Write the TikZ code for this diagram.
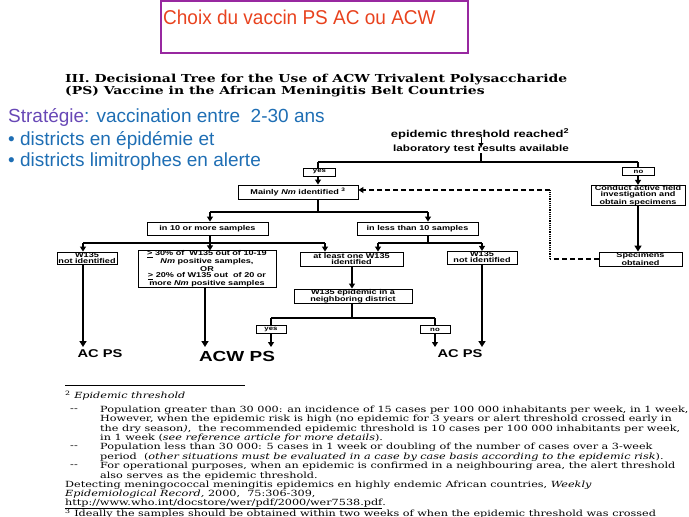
\documentclass[tikz,border=0pt]{standalone}
\usepackage{fontspec}
\setmainfont{Liberation Sans}
\newfontfamily\serifx[FakeStretch=1.32]{DejaVu Serif}
\newfontfamily\headfont[FakeStretch=1.27]{DejaVu Serif}
\newfontfamily\treefont[FakeStretch=1.3]{Liberation Sans}
\newfontfamily\titlefont[FakeStretch=0.95]{Liberation Sans}
\usetikzlibrary{arrows.meta}
\definecolor{titlered}{RGB}{232,66,30}
\definecolor{boxpurple}{RGB}{152,40,160}
\definecolor{stratviolet}{RGB}{104,72,182}
\definecolor{stratblue}{RGB}{30,110,180}
\tikzset{
  box/.style={draw,line width=0.9pt,inner sep=0pt,align=center,font=\treefont\bfseries\fontsize{7}{6.3}\selectfont},
  lab/.style={draw,line width=0.9pt,inner sep=0pt,minimum width=32pt,minimum height=8pt,font=\treefont\bfseries\fontsize{6}{6}\selectfont},
  ln/.style={line width=1.1pt},
  arr/.style={line width=1.1pt,-{Triangle[length=5pt,width=6pt]}},
  thick arr/.style={line width=2pt,-{Triangle[length=6pt,width=7pt]}},
  result/.style={font=\treefont\bfseries\fontsize{11.3}{11}\selectfont,inner sep=0pt},
  foot/.style={anchor=west,inner sep=0pt,font=\serifx\fontsize{8.5}{9}\selectfont},
  dsh/.style={line width=1.1pt,dash pattern=on 5pt off 3pt},
  dot/.style={line width=1.6pt,dash pattern=on 1.2pt off 1pt},
}
\begin{document}
\begin{tikzpicture}[x=1pt,y=-1pt]
\useasboundingbox (0,0) rectangle (689,517);
% title box
\node[draw=boxpurple,line width=1.3pt,minimum width=307pt,minimum height=52pt,inner sep=0pt] (tbox) at (314.5,27) {};
\node[anchor=west,inner sep=0pt,text=titlered,font=\titlefont\fontsize{20}{20}\selectfont] (ttext) at (163,17) {Choix du vaccin PS AC ou ACW};
% heading
\node[anchor=west,inner sep=0pt,font=\headfont\bfseries\fontsize{11}{12}\selectfont] (h1) at (65,80) {III. Decisional Tree for the Use of ACW Trivalent Polysaccharide};
\node[anchor=west,inner sep=0pt,font=\headfont\bfseries\fontsize{11}{12}\selectfont] (h2) at (65,92) {(PS) Vaccine in the African Meningitis Belt Countries};
% strategy
\node[anchor=west,inner sep=0pt,font=\fontsize{19}{19}\selectfont] (s1) at (8,117) {\textcolor{stratviolet}{Stratégie}\textcolor{stratblue}{: vaccination entre\ \ 2-30 ans}};
\node[anchor=west,inner sep=0pt,text=stratblue,font=\fontsize{19}{19}\selectfont] (s2) at (8,140) {• districts en épidémie et};
\node[anchor=west,inner sep=0pt,text=stratblue,font=\fontsize{19}{19}\selectfont] (s3) at (8,162) {• districts limitrophes en alerte};
% top texts
\node[inner sep=0pt,font=\treefont\bfseries\fontsize{10}{10}\selectfont] (thr) at (480,134) {epidemic threshold reached\textsuperscript{2}};
\node[inner sep=0pt,font=\treefont\bfseries\fontsize{9}{9}\selectfont] (labt) at (481,149) {laboratory test results available};
\draw[line width=1pt,-{Triangle[length=4pt,width=5pt]}] (481,137) -- (481,147);
\coordinate (top) at (481,155);
\coordinate (hl) at (318,162);
\coordinate (hr) at (638,162);
% boxes
\node[lab] (yesA) at (319.5,172) {yes};
\node[box,minimum width=120pt,minimum height=14pt] (mainly) at (298,192) {Mainly \textit{Nm} identified \textsuperscript{3}};
\node[lab] (noA) at (638.5,171.5) {no};
\node[box,minimum width=94pt,minimum height=19pt] (conduct) at (638,195.5) {Conduct active field\\investigation and\\obtain specimens};
\node[box,minimum width=83pt,minimum height=14pt] (spec) at (640.5,259) {Specimens\\obtained};
\node[box,minimum width=121pt,minimum height=13pt] (ten) at (207.5,228.5) {in 10 or more samples};
\node[box,minimum width=121pt,minimum height=13pt] (less) at (417.5,228.5) {in less than 10 samples};
\node[box,minimum width=60pt,minimum height=12pt] (wl) at (87,258) {W135\\not identified};
\node[box,minimum width=138pt,minimum height=34pt] (pct) at (207,269) {\underline{>} 30\% of\ \ W135 out of 10-19\\\textit{Nm} positive samples,\\OR\\\underline{>} 20\% of W135 out\ \ of 20 or\\more \textit{Nm} positive samples};
\node[box,minimum width=103pt,minimum height=14pt] (atl) at (351.5,259) {at least one W135\\identified};
\node[box,minimum width=70pt,minimum height=12pt] (wr) at (482,258) {W135\\\underline{not identified}};
\node[box,minimum width=118pt,minimum height=14pt] (nb) at (353,296) {W135 epidemic in a\\neighboring district};
\node[lab,minimum width=30pt] (yesB) at (271,329.5) {yes};
\node[lab,minimum width=30pt] (noB) at (435,329.5) {no};
% results
\node[result] (r1) at (100,354) {AC PS};
\node[result,font=\treefont\bfseries\fontsize{14.6}{14}\selectfont] (r2) at (237,356) {ACW PS};
\node[result] (r3) at (460,354) {AC PS};
% connectors top
\draw[ln] (labt.south) -- (top |- hl);
\draw[ln] (hl) -- (hr);
\draw[ln] (hl) -- (yesA.north -| hl);
\draw[arr] (yesA.south -| hl) -- (mainly.north -| hl);
\draw[ln] (hr) -- (noA.north -| hr);
\draw[arr] (noA.south -| hr) -- (conduct.north -| hr);
\draw[thick arr] (conduct.south -| hr) -- (spec.north -| hr);
% dashed feedback
\coordinate (dlow) at (550,259);
\coordinate (dup) at (550,190);
\draw[dsh] (spec.west) -- (dlow);
\draw[dot] (dlow) -- (dup);
\draw[dsh,-{Triangle[length=5pt,width=6pt]}] (dup) -- (mainly.east |- dup);
% level 2
\coordinate (m1) at (318,212);
\draw[ln] (mainly.south -| m1) -- (m1);
\draw[ln] (210,212) -- (428,212);
\draw[arr] (210,212) -- (ten.north -| 210,0);
\draw[arr] (428,212) -- (less.north -| 428,0);
% level 3 left
\coordinate (t1) at (210,243);
\draw[ln] (ten.south -| t1) -- (t1);
\draw[ln] (83,243) -- (325,243);
\draw[arr] (83,243) -- (wl.north -| 83,0);
\draw[arr] (210,243) -- (pct.north -| 210,0);
\draw[arr] (325,243) -- (atl.north -| 325,0);
% level 3 right
\coordinate (t2) at (428,243);
\draw[ln] (less.south -| t2) -- (t2);
\draw[ln] (378,243) -- (482,243);
\draw[arr] (378,243) -- (atl.north -| 378,0);
\draw[arr] (482,243) -- (wr.north -| 482,0);
% neighbouring
\draw[arr] (atl.south -| 352,0) -- (nb.north -| 352,0);
\coordinate (n1) at (352,318);
\draw[ln] (nb.south -| n1) -- (n1);
\draw[ln] (271,318) -- (435,318);
\draw[ln] (271,318) -- (yesB.north);
\draw[ln] (435,318) -- (noB.north);
\draw[arr] (yesB.south) -- (271,347);
\draw[arr] (noB.south) -- (435,347);
% long arrows
\draw[thick arr] (wl.south -| 83,0) -- (83,347);
\draw[thick arr] (pct.south -| 205,0) -- (205,347);
\draw[thick arr] (wr.south -| 482,0) -- (482,347);
% footnotes
\draw[line width=0.8pt] (65,385) -- (245,385);
\node[foot] (f0) at (65,396) {\textsuperscript{2} \textit{Epidemic threshold}};
\node[foot,anchor=east] (d1) at (78,410) {--};
\node[foot] (f1) at (100,410) {Population greater than 30 000: an incidence of 15 cases per 100 000 inhabitants per week, in 1 week,};
\node[foot] (f2) at (100,419.4) {However, when the epidemic risk is high (no epidemic for 3 years or alert threshold crossed early in};
\node[foot] (f3) at (100,428.8) {the dry season\textit{)},\ \ the recommended epidemic threshold is 10 cases per 100 000 inhabitants per week,};
\node[foot] (f4) at (100,438.2) {in 1 week (\textit{see reference article for more details}).};
\node[foot,anchor=east] (d2) at (78,447.6) {--};
\node[foot] (f5) at (100,447.6) {Population less than 30 000: 5 cases in 1 week or doubling of the number of cases over a 3-week};
\node[foot] (f6) at (100,457) {period\ \ (\textit{other situations must be evaluated in a case by case basis according to the epidemic risk}).};
\node[foot,anchor=east] (d3) at (78,466.4) {--};
\node[foot] (f7) at (100,466.4) {For operational purposes, when an epidemic is confirmed in a neighbouring area, the alert threshold};
\node[foot] (f8) at (100,475.8) {also serves as the epidemic threshold.};
\node[foot] (f9) at (65,485.2) {Detecting meningococcal meningitis epidemics en highly endemic African countries, \textit{Weekly}};
\node[foot] (f10) at (65,494.6) {\textit{Epidemiological Record,} 2000,\ \ 75:306-309,};
\node[foot] (f11) at (65,504) {\underline{http://www.who.int/docstore/wer/pdf/2000/wer7538.pdf}.};
\node[foot] (f12) at (65,513.5) {\textsuperscript{3} Ideally the samples should be obtained within two weeks of when the epidemic threshold was crossed};
\end{tikzpicture}
\end{document}
